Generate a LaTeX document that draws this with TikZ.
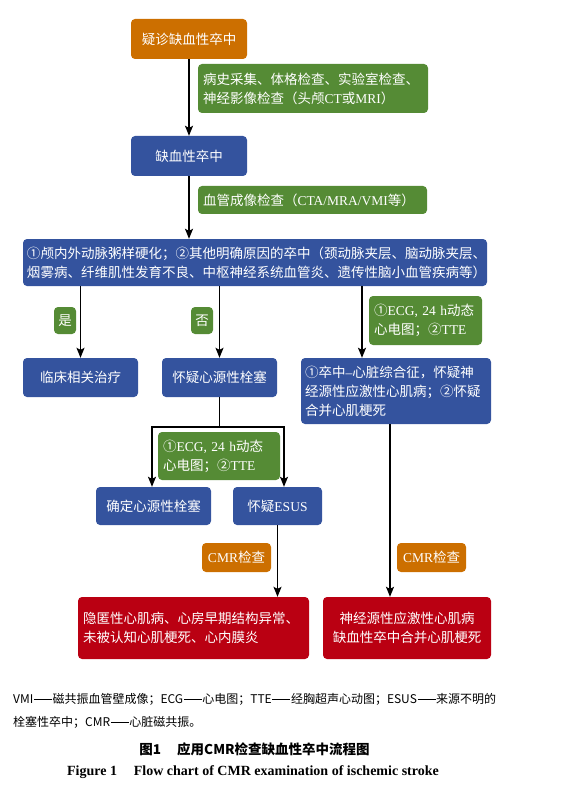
\documentclass[tikz,border=0pt]{standalone}
\usepackage{fontspec}
\setmainfont{Liberation Serif}
\newfontfamily\cjk{Noto Sans CJK SC}
\usetikzlibrary{arrows.meta}
\definecolor{cOr}{HTML}{CC6F00}
\definecolor{cBl}{HTML}{34539E}
\definecolor{cGr}{HTML}{558B35}
\definecolor{cRd}{HTML}{BA0012}
\newcommand\fsz{\fontsize{13.5}{19}\selectfont}
\newcommand\zh[1]{{\cjk #1}}
\newcommand\cdash{\makebox[1.6em]{\rule[0.33em]{1.5em}{0.55pt}}}
\tikzset{
  box/.style={rounded corners=4pt, inner sep=0pt, text=white, font=\fsz, align=center},
  lbox/.style={box, align=left, inner xsep=5pt},
  orbox/.style={box, fill=cOr},
  blbox/.style={box, fill=cBl},
  grbox/.style={box, fill=cGr},
  rdbox/.style={box, fill=cRd},
  arr/.style={line width=1.2pt, -{Stealth[length=10pt,width=8pt,inset=2pt]}},
  ln/.style={line width=1.2pt},
}
\begin{document}
\begin{tikzpicture}[x=1pt,y=-1pt]
\useasboundingbox (0,0) rectangle (587,794);
% nodes
\node[orbox, minimum width=116pt, minimum height=40pt] (n1) at (189,39) {\zh{疑诊缺血性卒中}};
\node[grbox, lbox, text width=220pt, minimum height=49pt] (g1) at (313,88.5)
  {\zh{病史采集、体格检查、实验室检查、}\\\zh{神经影像检查（头颅}CT\zh{或}MRI\zh{）}};
\node[blbox, minimum width=116pt, minimum height=40pt] (n2) at (189,156) {\zh{缺血性卒中}};
\node[grbox, lbox, text width=219pt, minimum height=28pt] (g2) at (312.5,200)
  {\zh{血管成像检查（}CTA/MRA/VMI\zh{等）}};
\node[blbox, lbox, inner xsep=4pt, text width=456pt, minimum height=47pt] (n3) at (255,262.5)
  {\zh{①颅内外动脉粥样硬化；②其他明确原因的卒中（颈动脉夹层、脑动脉夹层、}\\
   \zh{烟雾病、纤维肌性发育不良、中枢神经系统血管炎、遗传性脑小血管疾病等）}};
\node[grbox, minimum width=22pt, minimum height=27pt] (yes) at (65,320.5) {\zh{是}};
\node[grbox, minimum width=22pt, minimum height=27pt] (no) at (202,320.5) {\zh{否}};
\node[grbox, lbox, text width=103pt, minimum height=49pt] (g3) at (425.5,320.5)
  {\zh{①}ECG, 24 h\zh{动态}\\\zh{心电图；②}TTE};
\node[blbox, minimum width=115pt, minimum height=39pt] (n4) at (80.5,377.5) {\zh{临床相关治疗}};
\node[blbox, minimum width=115pt, minimum height=39pt] (n5) at (219.5,377.5) {\zh{怀疑心源性栓塞}};
\node[blbox, lbox, inner xsep=4pt, text width=182pt, minimum height=66pt] (n6) at (396,391)
  {\zh{①卒中}\textendash\zh{心脏综合征，怀疑神}\\\zh{经源性应激性心肌病；②怀疑}\\\zh{合并心肌梗死}};
\node[blbox, minimum width=115pt, minimum height=38pt] (n7) at (153.5,506) {\zh{确定心源性栓塞}};
\node[blbox, minimum width=89pt, minimum height=38pt] (n8) at (277.5,506) {\zh{怀疑}ESUS};
\node[orbox, minimum width=69pt, minimum height=29pt] (c1) at (236.5,557.5) {CMR\zh{检查}};
\node[orbox, minimum width=69pt, minimum height=29pt] (c2) at (431.5,557.5) {CMR\zh{检查}};
\node[rdbox, lbox, text width=221pt, minimum height=62pt] (r1) at (193.5,628)
  {\zh{隐匿性心肌病、心房早期结构异常、}\\\zh{未被认知心肌梗死、心内膜炎}};
\node[rdbox, minimum width=168pt, minimum height=62pt] (r2) at (407,628)
  {\zh{神经源性应激性心肌病}\\\zh{缺血性卒中合并心肌梗死}};
% connectors
\coordinate (k3) at (362,0);
\coordinate (fl) at (152,427);
\coordinate (fr) at (284,427);
\coordinate (k6) at (390,0);
\draw[arr] (n1) -- (n2);
\draw[arr] (n2.south) -- (n2.south |- n3.north);
\draw[arr] (n4.north |- n3.south) -- (n4.north);
\draw[arr] (n5.north |- n3.south) -- (n5.north);
\draw[arr] (k3 |- n3.south) -- (k3 |- n6.north);
\draw[ln] (n5.south) -- (n5.south |- fl);
\draw[ln, line cap=rect] (fl) -- (fr);
\draw[arr] (fl) -- (fl |- n7.north);
\draw[arr] (fr) -- (fr |- n8.north);
\draw[arr] (n8.south) -- (n8.south |- r1.north);
\draw[arr] (k6 |- n6.south) -- (k6 |- r2.north);
% green label over the fork
\node[grbox, lbox, text width=112pt, minimum height=48pt] (g4) at (219,456)
  {\zh{①}ECG, 24 h\zh{动态}\\\zh{心电图；②}TTE};
% caption
\node[anchor=west, inner sep=0pt, font=\cjk\fontsize{12}{15}\selectfont] (cap1) at (13,699)
  {VMI\cdash 磁共振血管壁成像；ECG\cdash 心电图；TTE\cdash 经胸超声心动图；ESUS\cdash 来源不明的};
\node[anchor=west, inner sep=0pt, font=\cjk\fontsize{12}{15}\selectfont] (cap2) at (13,722)
  {栓塞性卒中；CMR\cdash 心脏磁共振。};
\node[inner sep=0pt, font=\cjk\bfseries\fontsize{13.5}{15}\selectfont] (cap3) at (254.5,749)
  {图1\hspace{1.2em}应用CMR检查缺血性卒中流程图};
\node[inner sep=0pt, font=\bfseries\fontsize{14}{15}\selectfont] (cap4) at (253,772)
  {Figure 1\hspace{1.2em}Flow chart of CMR examination of ischemic stroke};
\end{tikzpicture}
\end{document}
